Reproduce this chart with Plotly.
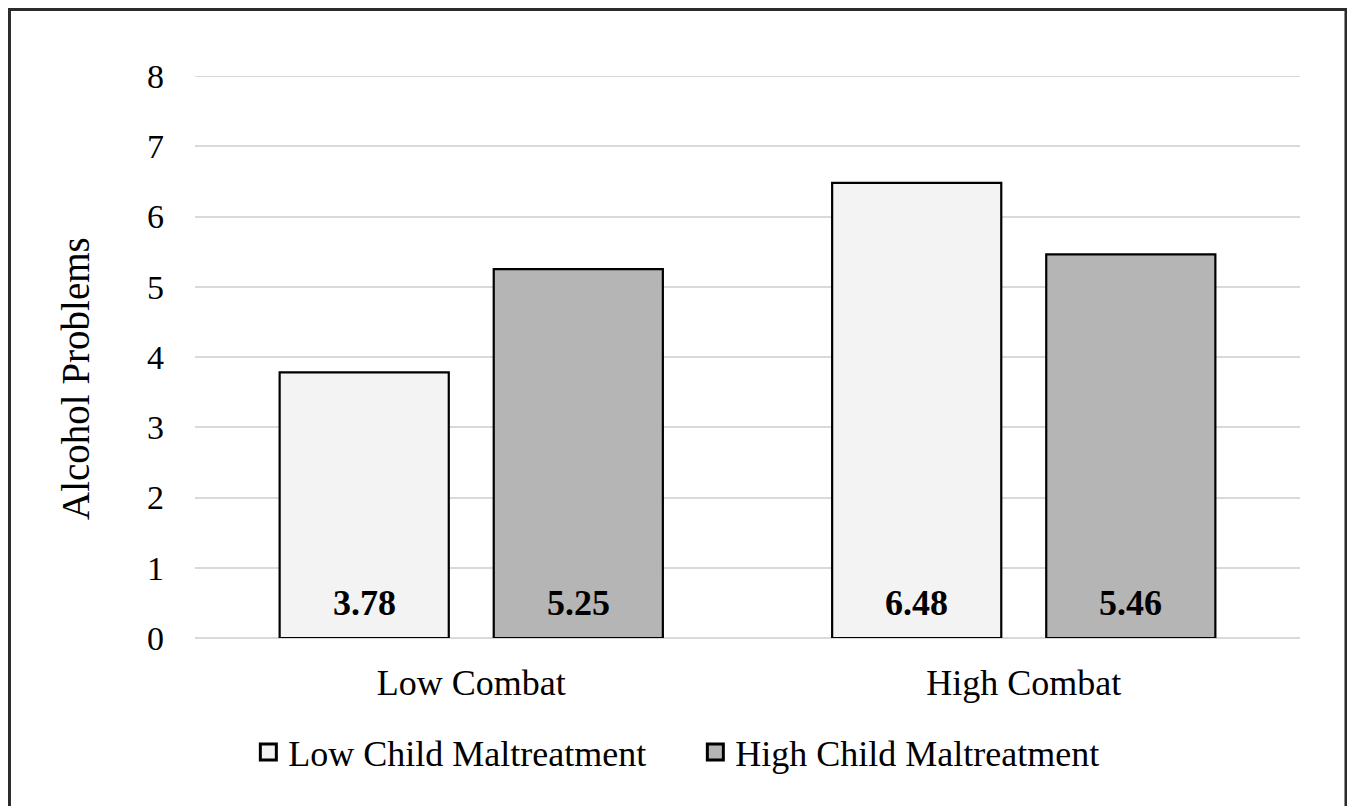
import plotly.graph_objects as go

categories = ["Low Combat", "High Combat"]
series_names = ["Low Child Maltreatment", "High Child Maltreatment"]
low_cm = [3.78, 6.48]
high_cm = [5.25, 5.46]
label_low = ["3.78", "6.48"]
label_high = ["5.25", "5.46"]
y_ticks = [0, 1, 2, 3, 4, 5, 6, 7, 8]
y_title = "Alcohol Problems"

FONT = "Liberation Serif, Times New Roman, serif"
LIGHT = "#f3f3f3"
DARK = "#b5b5b5"

fig = go.Figure()
fig.add_trace(go.Bar(
    x=categories, y=low_cm, name=series_names[0], showlegend=False,
    marker=dict(color=LIGHT, line=dict(color="#000000", width=2.2)),
    hoverinfo="skip",
))
fig.add_trace(go.Bar(
    x=categories, y=high_cm, name=series_names[1], showlegend=False,
    marker=dict(color=DARK, line=dict(color="#000000", width=2.2)),
    hoverinfo="skip",
))
# legend entries with larger square swatches
for nm, col in zip(series_names, [LIGHT, DARK]):
    fig.add_trace(go.Scatter(
        x=[None], y=[None], mode="markers", name=nm,
        marker=dict(symbol="square", size=16, color=col, line=dict(color="#000", width=3)),
    ))

for cat, lab in zip(categories, label_low):
    fig.add_annotation(x=cat, y=0.5, text="<b>%s</b>" % lab, showarrow=False,
                       xshift=-107, font=dict(family=FONT, size=36, color="#000"))
for cat, lab in zip(categories, label_high):
    fig.add_annotation(x=cat, y=0.5, text="<b>%s</b>" % lab, showarrow=False,
                       xshift=107, font=dict(family=FONT, size=36, color="#000"))

# y-axis title (placed slightly below centre as in the reference)
fig.add_annotation(xref="paper", yref="paper", x=-0.1086, y=0.4626, text=y_title,
                   textangle=-90, showarrow=False, xanchor="center", yanchor="middle",
                   font=dict(family=FONT, size=39, color="#000"))

# top gridline at the maximum tick
fig.add_shape(type="line", xref="paper", yref="y", x0=0, x1=1, y0=y_ticks[-1], y1=y_ticks[-1],
              line=dict(color="#d9d9d9", width=2), layer="below")

# outer chart border (page body has 8px margin)
fig.add_shape(type="rect", xref="paper", yref="paper",
              x0=-0.1679, x1=1.0416, y0=-0.34, y1=1.1183,
              line=dict(color="#2b2b2b", width=3), layer="above")

fig.update_layout(
    width=1347, height=798,
    margin=dict(l=187, r=55, t=68, b=168),
    paper_bgcolor="white", plot_bgcolor="white",
    barmode="group", bargap=0.225, bargroupgap=0.21,
    font=dict(family=FONT, color="#000"),
    showlegend=True,
    legend=dict(orientation="h", x=0.4528, xanchor="center", y=-0.203, yanchor="middle",
                font=dict(family=FONT, size=36, color="#000"),
                itemwidth=30, traceorder="normal", entrywidth=402),
    xaxis=dict(showgrid=False, showline=False, ticks="", ticklabelstandoff=20,
               tickfont=dict(family=FONT, size=36, color="#000")),
    yaxis=dict(range=[0, 8], tickvals=y_ticks, showgrid=True, gridcolor="#d9d9d9", gridwidth=2,
               zeroline=True, zerolinecolor="#d9d9d9", zerolinewidth=2, showline=False,
               ticks="", ticklabelstandoff=30,
               tickfont=dict(family=FONT, size=34, color="#000")),
)

fig.write_html("out.html")
